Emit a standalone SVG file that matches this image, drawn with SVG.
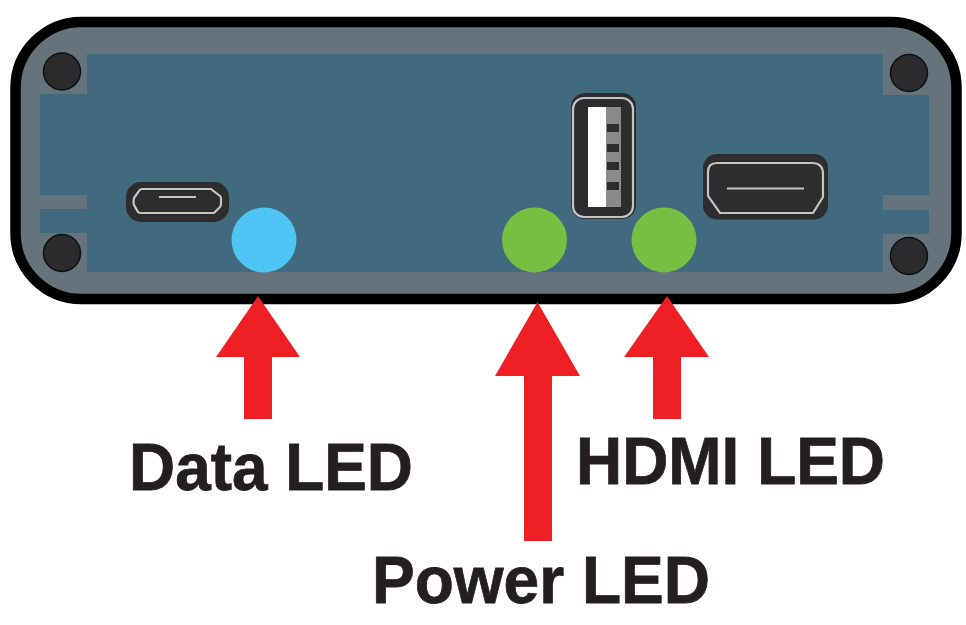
<svg xmlns="http://www.w3.org/2000/svg" width="966" height="625" viewBox="0 0 966 625">
<style>
.screw{fill:#2b2b2d;stroke:#0c1116;stroke-width:1.500}
.port{fill:#2d2d2f}
.trim{fill:none;stroke:#c4c4c2;stroke-width:2.200}
.arrow{fill:#ee2024}
.label{font-family:"Liberation Sans",Arial,sans-serif;font-weight:700;font-size:67px;fill:#231f20;stroke:#231f20;stroke-width:0.800}
.seam{fill:#65747c}
</style>
<rect width="966" height="625" fill="#fff"/>
<g id="enclosure">
<rect x="15.500" y="22" width="941" height="277" rx="66" ry="66" fill="#65747c" stroke="#000" stroke-width="10.500"/>
<path fill="#426a7e" d="M87 54H883V95H929V195H883V210H929V234H883V272H87V233H40V209H87V195H40V94H87Z"/>
<rect class="seam" x="40" y="195" width="47" height="14"/>
</g>
<g id="screw-top-left"><circle class="screw" cx="62" cy="71.500" r="18.500"/></g>
<g id="screw-bottom-left"><circle class="screw" cx="62" cy="253" r="18.500"/></g>
<g id="screw-top-right"><circle class="screw" cx="909" cy="73" r="18.500"/></g>
<g id="screw-bottom-right"><circle class="screw" cx="909" cy="256" r="18.500"/></g>
<g id="micro-usb-port">
<rect class="port" x="126" y="182" width="103" height="40" rx="15"/>
<path class="trim" d="M142 189H211L220 196Q221 197 221 199V204Q221 206 220 207L214 213H141Q139 213 138 212L134 205Q133 202 134 198L139 191Q140 189 142 189Z"/>
<path class="trim" d="M159 197H196"/>
</g>
<g id="usb-a-port">
<rect class="port" x="571" y="93" width="65" height="126" rx="14"/>
<rect class="trim" x="573" y="98" width="60" height="119" rx="11"/>
<rect x="588" y="107" width="19" height="100" fill="#fff"/>
<rect x="606" y="107" width="15" height="100" fill="#8a8a8a"/>
<g class="port"><rect x="607" y="124" width="12" height="8"/><rect x="607" y="144" width="12" height="8"/><rect x="607" y="162" width="12" height="8"/><rect x="607" y="182" width="12" height="8"/></g>
</g>
<g id="hdmi-port">
<rect class="port" x="703" y="154" width="125" height="65.500" rx="14"/>
<path class="trim" d="M717 163H812Q823 163 823 174V197L813 213H720L708 196V172Q708 163 717 163Z"/>
<path class="trim" d="M727 188.500H804"/>
</g>
<g id="data-led"><circle cx="264" cy="240" r="32.500" fill="#4fc5f6"/></g>
<g id="power-led"><circle cx="534.500" cy="240" r="32.500" fill="#75c043"/></g>
<g id="hdmi-led"><circle cx="664" cy="240" r="32.500" fill="#75c043"/></g>
<g id="connectors">
<path class="arrow" d="M258 296L300 357H272V419H244V357H216Z"/>
<path class="arrow" d="M537.500 302L580 376H552V541H524V376H495Z"/>
<path class="arrow" d="M667 296L709 357H681V419H653V357H624Z"/>
</g>
<g id="labels">
<text class="label" x="129" y="490" textLength="284" lengthAdjust="spacingAndGlyphs">Data LED</text>
<text class="label" x="576" y="484" textLength="309" lengthAdjust="spacingAndGlyphs">HDMI LED</text>
<text class="label" x="372" y="603" textLength="338" lengthAdjust="spacingAndGlyphs">Power LED</text>
</g>
</svg>
